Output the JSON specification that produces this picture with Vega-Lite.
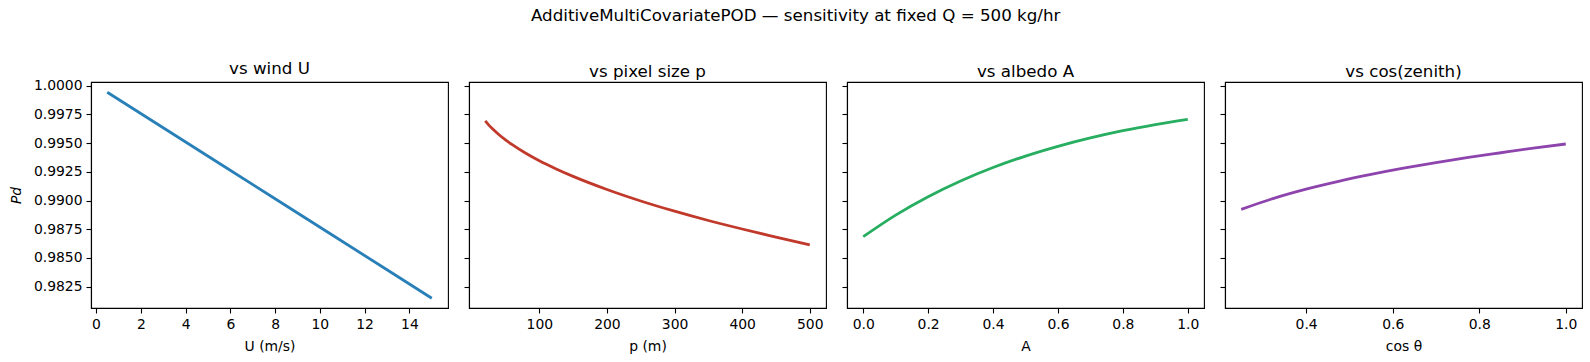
{
  "$schema": "https://vega.github.io/schema/vega-lite/v6.json",
  "padding": {"left": 8, "top": 7, "right": 9, "bottom": 5},
  "background": "white",
  "bounds": "flush",
  "config": {
    "font": "DejaVu Sans",
    "view": {"stroke": "black", "strokeWidth": 1.1},
    "axis": {
      "grid": false,
      "domain": true,
      "domainColor": "black",
      "domainWidth": 1.1,
      "tickColor": "black",
      "tickWidth": 1.1,
      "tickSize": 5,
      "labelPadding": 4,
      "labelFont": "DejaVu Sans",
      "labelFontSize": 13.9,
      "labelColor": "black",
      "titleFont": "DejaVu Sans",
      "titleFontSize": 13.9,
      "titleFontWeight": "normal",
      "titleColor": "black"
    },
    "title": {"font": "DejaVu Sans", "fontSize": 16.7, "fontWeight": "normal", "color": "black"},
    "concat": {"spacing": 21}
  },
  "title": {"text": "AdditiveMultiCovariatePOD — sensitivity at fixed Q = 500 kg/hr", "anchor": "middle", "offset": 36, "fontSize": 16.7},
  "datasets": {
    "wind": [
      {"U": 0.5, "P": 0.99943},
      {"U": 3, "P": 0.99634},
      {"U": 5.5, "P": 0.99324},
      {"U": 8, "P": 0.99015},
      {"U": 10.5, "P": 0.98706},
      {"U": 13, "P": 0.98397},
      {"U": 15, "P": 0.98149}
    ],
    "pixel": [
      {"p": 20, "P": 0.99693},
      {"p": 25, "P": 0.99659},
      {"p": 30, "P": 0.99629},
      {"p": 40, "P": 0.99575},
      {"p": 50, "P": 0.99528},
      {"p": 60, "P": 0.99486},
      {"p": 80, "P": 0.99411},
      {"p": 100, "P": 0.99346},
      {"p": 125, "P": 0.99275},
      {"p": 150, "P": 0.99210},
      {"p": 200, "P": 0.99096},
      {"p": 250, "P": 0.98996},
      {"p": 300, "P": 0.98907},
      {"p": 350, "P": 0.98826},
      {"p": 400, "P": 0.98752},
      {"p": 450, "P": 0.98682},
      {"p": 500, "P": 0.98613}
    ],
    "albedo": [
      {"A": 0.0, "P": 0.98685},
      {"A": 0.1, "P": 0.98873},
      {"A": 0.2, "P": 0.99033},
      {"A": 0.3, "P": 0.99170},
      {"A": 0.4, "P": 0.99287},
      {"A": 0.5, "P": 0.99387},
      {"A": 0.6, "P": 0.99472},
      {"A": 0.7, "P": 0.99545},
      {"A": 0.8, "P": 0.99608},
      {"A": 0.9, "P": 0.99661},
      {"A": 1.0, "P": 0.99707}
    ],
    "zenith": [
      {"c": 0.25, "P": 0.98923},
      {"c": 0.325, "P": 0.99019},
      {"c": 0.4, "P": 0.99099},
      {"c": 0.475, "P": 0.99167},
      {"c": 0.55, "P": 0.99227},
      {"c": 0.625, "P": 0.99281},
      {"c": 0.7, "P": 0.99330},
      {"c": 0.775, "P": 0.99375},
      {"c": 0.85, "P": 0.99416},
      {"c": 0.925, "P": 0.99456},
      {"c": 1.0, "P": 0.99492}
    ]
  },
  "hconcat": [
    {
      "width": 357, "height": 226,
      "title": {"text": "vs wind U", "offset": 1},
      "data": {"name": "wind"},
      "mark": {"type": "line", "color": "#2980b9", "strokeWidth": 2.8, "clip": true},
      "encoding": {
        "x": {"field": "U", "type": "quantitative", "title": "U (m/s)",
              "scale": {"domain": [-0.225, 15.725], "nice": false, "zero": false},
              "axis": {"values": [0, 2, 4, 6, 8, 10, 12, 14], "format": "d", "titlePadding": 9}},
        "y": {"field": "P", "type": "quantitative", "title": "Pd",
              "scale": {"domain": [0.98064, 1.00032], "nice": false, "zero": false},
              "axis": {"values": [0.9825, 0.985, 0.9875, 0.99, 0.9925, 0.995, 0.9975, 1.0], "format": ".4f", "titleFontStyle": "italic", "titlePadding": 10}}
      }
    },
    {
      "width": 357, "height": 226,
      "title": {"text": "vs pixel size p", "offset": 1},
      "data": {"name": "pixel"},
      "mark": {"type": "line", "color": "#c0392b", "strokeWidth": 2.8, "interpolate": "monotone", "clip": true},
      "encoding": {
        "x": {"field": "p", "type": "quantitative", "title": "p (m)",
              "scale": {"domain": [-4, 524], "nice": false, "zero": false},
              "axis": {"values": [100, 200, 300, 400, 500], "format": "d", "titlePadding": 9}},
        "y": {"field": "P", "type": "quantitative",
              "scale": {"domain": [0.98064, 1.00032], "nice": false, "zero": false},
              "axis": {"values": [0.9825, 0.985, 0.9875, 0.99, 0.9925, 0.995, 0.9975, 1.0], "labels": false, "title": null}}
      }
    },
    {
      "width": 357, "height": 226,
      "title": {"text": "vs albedo A", "offset": 1},
      "data": {"name": "albedo"},
      "mark": {"type": "line", "color": "#27ae60", "strokeWidth": 2.8, "interpolate": "monotone", "clip": true},
      "encoding": {
        "x": {"field": "A", "type": "quantitative", "title": "A",
              "scale": {"domain": [-0.05, 1.05], "nice": false, "zero": false},
              "axis": {"values": [0, 0.2, 0.4, 0.6, 0.8, 1.0], "format": ".1f", "titlePadding": 9}},
        "y": {"field": "P", "type": "quantitative",
              "scale": {"domain": [0.98064, 1.00032], "nice": false, "zero": false},
              "axis": {"values": [0.9825, 0.985, 0.9875, 0.99, 0.9925, 0.995, 0.9975, 1.0], "labels": false, "title": null}}
      }
    },
    {
      "width": 357, "height": 226,
      "title": {"text": "vs cos(zenith)", "offset": 1},
      "data": {"name": "zenith"},
      "mark": {"type": "line", "color": "#8e44ad", "strokeWidth": 2.8, "interpolate": "monotone", "clip": true},
      "encoding": {
        "x": {"field": "c", "type": "quantitative", "title": "cos θ",
              "scale": {"domain": [0.2125, 1.0375], "nice": false, "zero": false},
              "axis": {"values": [0.4, 0.6, 0.8, 1.0], "format": ".1f", "titlePadding": 9}},
        "y": {"field": "P", "type": "quantitative",
              "scale": {"domain": [0.98064, 1.00032], "nice": false, "zero": false},
              "axis": {"values": [0.9825, 0.985, 0.9875, 0.99, 0.9925, 0.995, 0.9975, 1.0], "labels": false, "title": null}}
      }
    }
  ]
}
